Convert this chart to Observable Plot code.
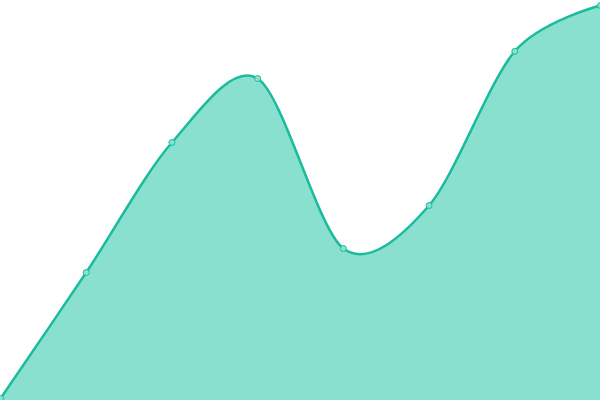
<!DOCTYPE html>
<html>
<head>
<meta charset="utf-8">
<script src="https://cdn.jsdelivr.net/npm/d3@7"></script>
<script src="https://cdn.jsdelivr.net/npm/@observablehq/plot@0.6"></script>
<style>
  html, body { margin: 0; padding: 0; background: #fff; overflow: hidden; }
  #chart svg { display: block; }
</style>
</head>
<body>
<div id="chart"></div>
<script>
const categories = [0, 1, 2, 3, 4, 5, 6, 7];
const values = [0.5, 32, 64.5, 80.5, 38, 48.75, 87.3, 98.75];

const data = categories.map((c, i) => ({x: c, y: values[i]}));
const teal = "#1abc9c";

const chart = Plot.plot({
  width: 600,
  height: 400,
  margin: 0,
  x: {domain: [0, 7], range: [0, 600], axis: null},
  y: {domain: [0, 100], range: [400, 0], axis: null},
  marks: [
    Plot.areaY(data, {x: "x", y: "y", curve: "cardinal", tension: 0.1, fill: "#8ae0cf"}),
    Plot.lineY(data, {x: "x", y: "y", curve: "cardinal", tension: 0.1, stroke: teal, strokeWidth: 2.5}),
    Plot.dot(data, {x: "x", y: "y", r: 3, fill: "#8be0cf", stroke: teal, strokeWidth: 1})
  ]
});
document.getElementById("chart").appendChild(chart);
</script>
</body>
</html>
